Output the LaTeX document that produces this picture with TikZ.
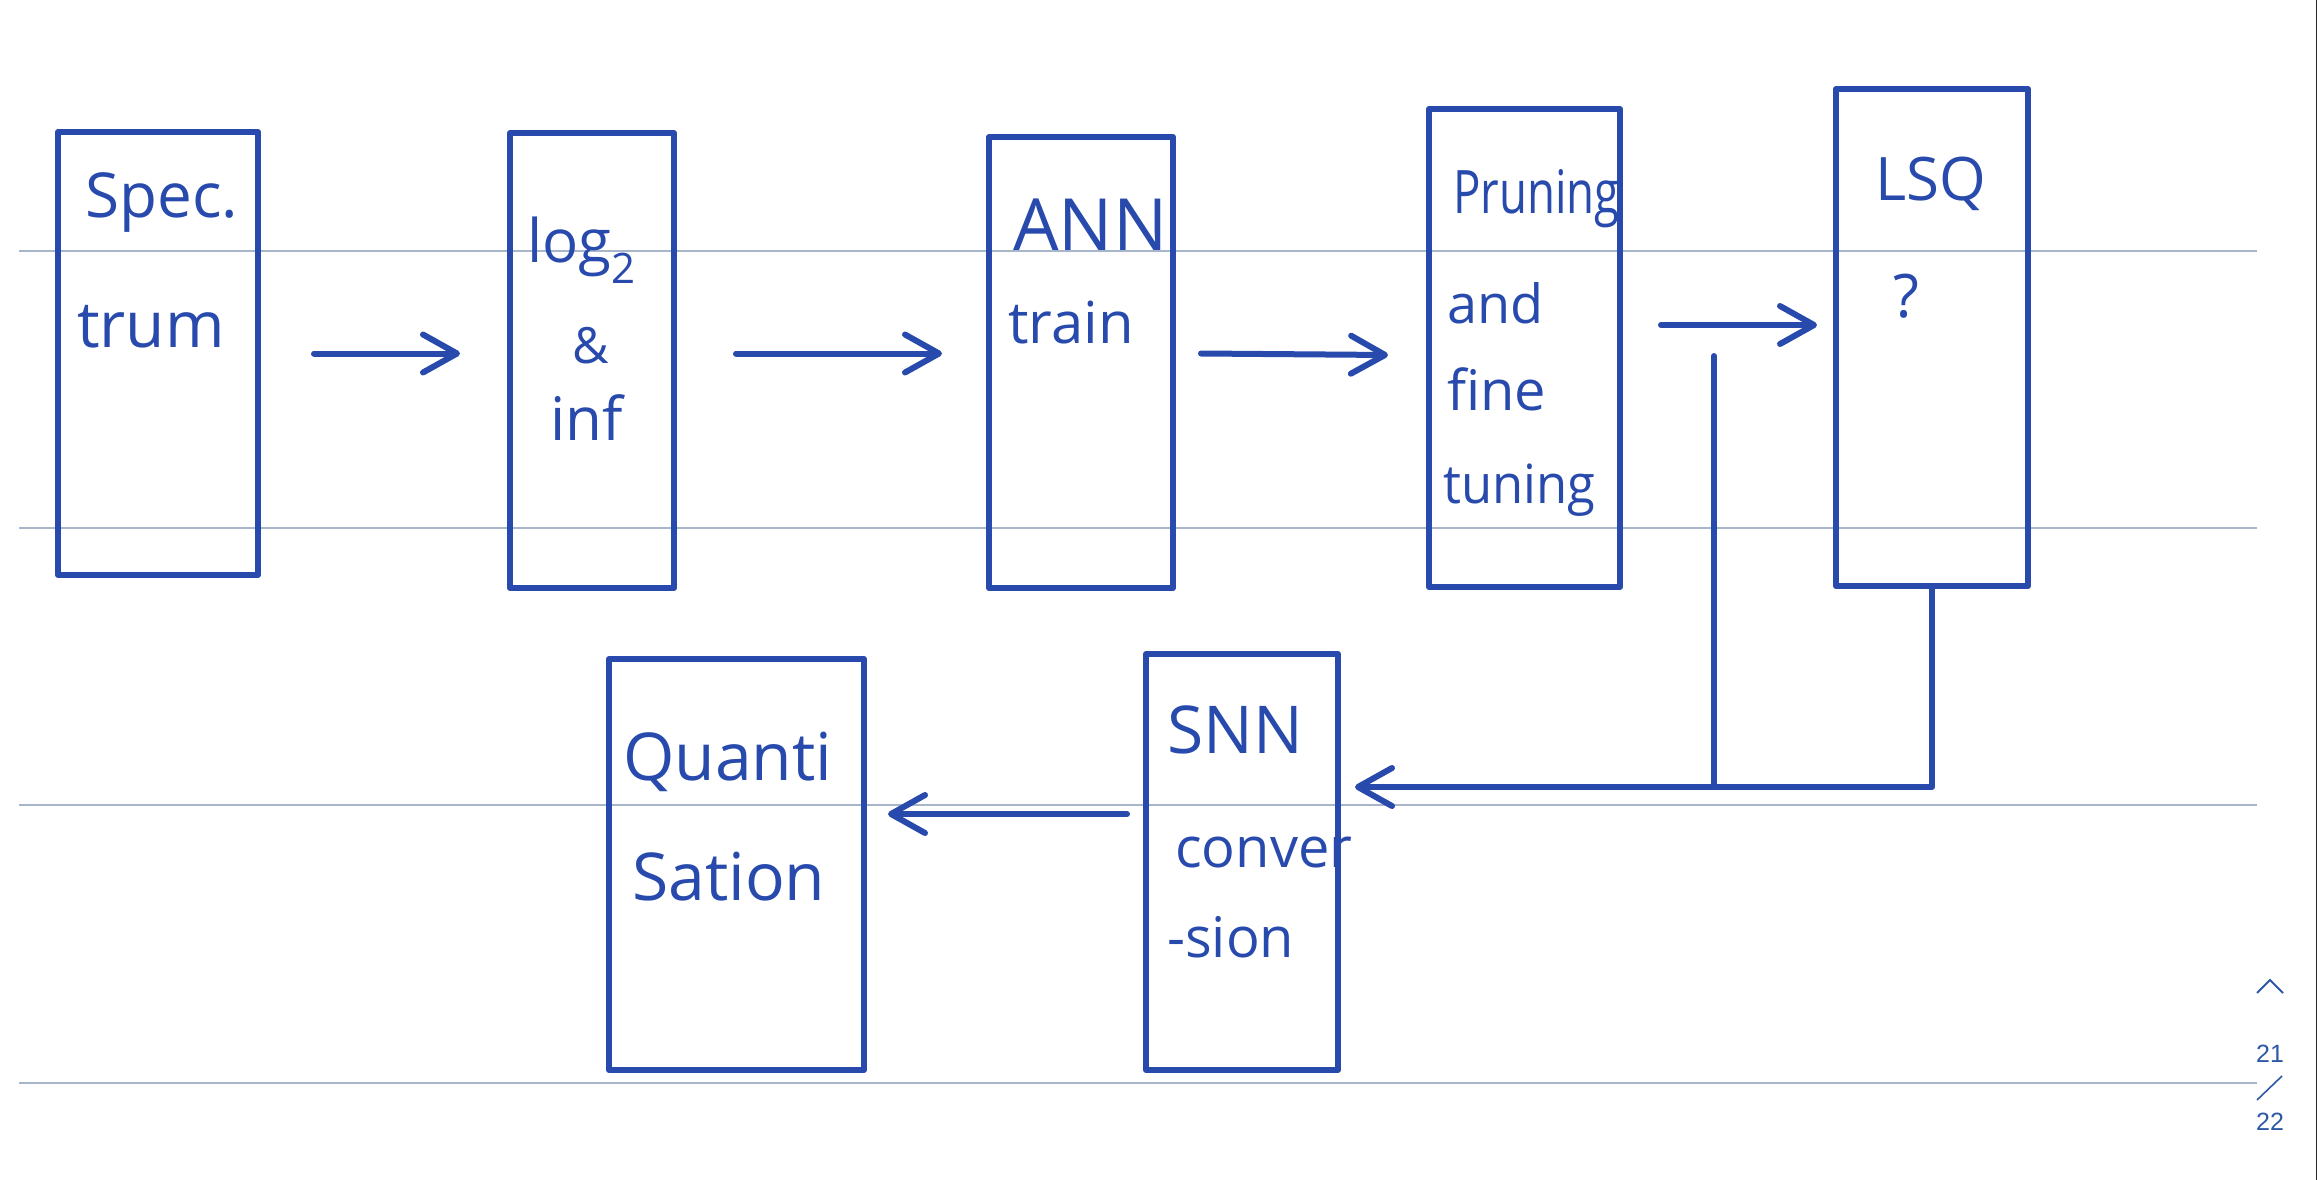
\documentclass[tikz,border=0pt]{standalone}
\usepackage{fontspec}
\setmainfont{Open Sans}
\newfontfamily\pagefont{Liberation Sans}
\usetikzlibrary{arrows.meta,calc}
\definecolor{ink}{RGB}{40,74,172}
\definecolor{ruling}{RGB}{168,182,204}
\definecolor{pageno}{RGB}{45,88,165}
\definecolor{edge}{RGB}{40,40,40}
\tikzset{
  stage/.style={draw=ink, line width=6pt, line join=round, inner sep=0pt},
  hand/.style={text=ink, inner sep=0pt, anchor=base west, font=\fontsize{#1}{#1}\selectfont},
  hand/.default=56,
  flow/.style={draw=ink, line width=6pt, line cap=round, line join=round,
    -{Straight Barb[round, length=34pt, width=38pt]}},
  wire/.style={draw=ink, line width=6pt, line cap=round},
  rule/.style={draw=ruling, line width=2.5pt},
  pagenum/.style={text=pageno, inner sep=0pt, font=\pagefont\fontsize{25}{25}\selectfont}
}
\begin{document}
\begin{tikzpicture}[x=1pt,y=-1pt]
  \useasboundingbox (0,0) rectangle (2318,1180);
  \foreach \y in {251,528,805,1083}
    \draw[rule] (19,\y) -- (2257,\y);
  \draw[edge, line width=1.5pt] (2316.5,0) -- (2316.5,1180);

  \node[stage, minimum width=200, minimum height=443] (spec) at (158,353.5) {};
  \node[stage, minimum width=164, minimum height=455] (logi) at (592,360.5) {};
  \node[stage, minimum width=184, minimum height=451] (ann) at (1081,362.5) {};
  \node[stage, minimum width=191, minimum height=478] (prune) at (1524.5,348) {};
  \node[stage, minimum width=192, minimum height=497] (lsq) at (1932,337.5) {};
  \node[stage, minimum width=255, minimum height=411] (quant) at (736.5,864.5) {};
  \node[stage, minimum width=192, minimum height=416] (snn) at (1242,862) {};

  \node[hand=62] (specA) at (85,217) {Spec.};
  \node[hand=64] (specB) at (77,347) {trum};
  \node[hand=60] (logiA) at (527,262) {log\textsubscript{2}};
  \node[hand=50] (logiB) at (572,363) {\&};
  \node[hand=60] (logiC) at (550,440) {inf};
  \node[hand=72] (annA) at (1013,250) {ANN};
  \node[hand=58] (annB) at (1008,343) {train};
  \node[hand=60] (pruneA) at (1453,213) {\scalebox{0.76}[1]{Pruning}};
  \node[hand=54] (pruneB) at (1447,323) {and};
  \node[hand=56] (pruneC) at (1447,410) {fine};
  \node[hand=54] (pruneD) at (1443,503) {\scalebox{0.94}[1]{tuning}};
  \node[hand=60] (lsqA) at (1875,200) {LSQ};
  \node[hand=60] (lsqB) at (1893,317) {?};
  \node[hand=66] (quantA) at (623,780) {Quanti};
  \node[hand=66] (quantB) at (632,900) {Sation};
  \node[hand=66] (snnA) at (1167,753) {SNN};
  \node[hand=56] (snnB) at (1175,867) {conver};
  \node[hand=56] (snnC) at (1167,957) {-sion};

  \draw[flow] ($(spec.east)+(53,0)$) -- ($(logi.west)+(-47,-7)$);
  \draw[flow] ($(logi.east)+(59,-7)$) -- ($(ann.west)+(-44,-9)$);
  \draw[flow] ($(ann.east)+(25,-9)$) -- ($(prune.west)+(-38,7)$);
  \draw[flow] ($(prune.east)+(38,-23)$) -- ($(lsq.west)+(-16,-12.5)$);
  \coordinate (back) at ($(snn.east)+(14,-75)$);
  \draw[flow] (lsq.south) |- (back);
  \coordinate (tap) at ($(prune.east)+(91,8)$);
  \draw[wire] (tap) -- (tap |- back);
  \draw[flow] ($(snn.west)+(-16,-48)$) -- ($(quant.east)+(21,-50.5)$);

  \draw[pageno, line width=2pt] (2257,993) -- (2270,980) -- (2283,993);
  \node[pagenum] (pgA) at (2270,1054) {21};
  \draw[pageno, line width=1.6pt] (2257,1100) -- (2282,1076);
  \node[pagenum] (pgB) at (2270,1122) {22};
\end{tikzpicture}
\end{document}
